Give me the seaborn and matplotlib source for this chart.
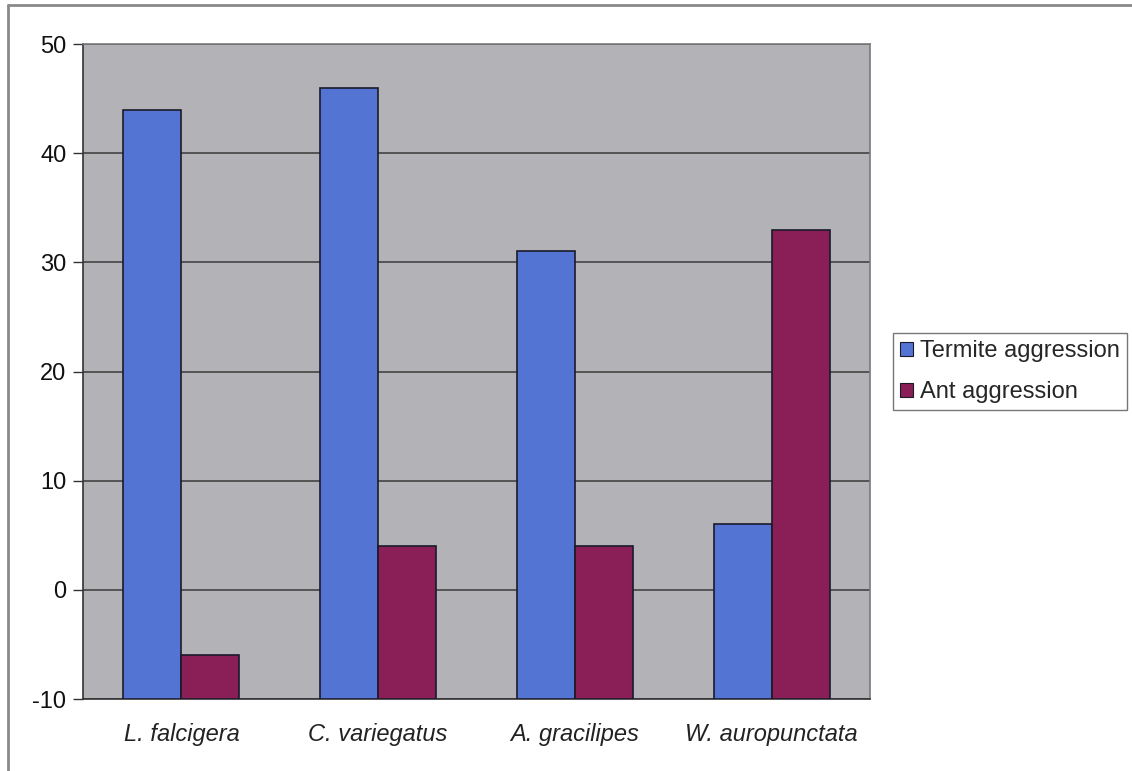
import matplotlib
matplotlib.use("Agg")
import matplotlib.pyplot as plt
from matplotlib.lines import Line2D
from matplotlib.patches import Patch
import pandas as pd
import seaborn as sns

species = ["L. falcigera", "C. variegatus", "A. gracilipes", "W. auropunctata"]
termite_aggression = [44, 46, 31, 6]
ant_aggression = [-6, 4, 4, 33]
series_names = ["Termite aggression", "Ant aggression"]
y_ticks = [-10, 0, 10, 20, 30, 40, 50]

colors = {"Termite aggression": "#5474D4", "Ant aggression": "#8A1E56"}

df = pd.DataFrame({
    "species": species * 2,
    "series": [series_names[0]] * len(species) + [series_names[1]] * len(species),
    "value": termite_aggression + ant_aggression,
})

sns.set_style("white")
plt.rcParams["font.family"] = ["Liberation Sans", "DejaVu Sans"]

fig = plt.figure(figsize=(11.32, 7.71), dpi=100)
fig.patch.set_facecolor("white")
ax = fig.add_axes([83 / 1132, 1 - 699 / 771, (870 - 83) / 1132, (699 - 44) / 771])
ax.set_facecolor("#B3B3B7")

sns.barplot(data=df, x="species", y="value", hue="series", order=species,
            hue_order=series_names, palette=colors, width=0.59, gap=0,
            edgecolor="#1a1a2a", linewidth=1.2, saturation=1, ax=ax,
            legend=False, zorder=3)

# bars rise from the bottom of the value axis (-10), where the category axis crosses
base = y_ticks[0]
for p in ax.patches:
    top = p.get_y() + p.get_height()
    p.set_y(base)
    p.set_height(top - base)

ax.set_ylim(y_ticks[0], y_ticks[-1])
ax.set_xlim(-0.5, len(species) - 0.5)
ax.set_yticks(y_ticks)
ax.set_yticklabels([str(t) for t in y_ticks], fontsize=17, color="#111111")
ax.yaxis.grid(True, color="#3a3a3a", linewidth=1.1, zorder=1)
ax.set_axisbelow(True)

ax.set_xticks(range(len(species)))
ax.set_xticklabels(species, fontsize=17, style="italic", color="#222222")
ax.set_xticks([i - 0.5 for i in range(len(species) + 1)], minor=True)
ax.tick_params(axis="x", which="major", length=0, pad=17)
ax.tick_params(axis="x", which="minor", length=7, width=1, color="#555555", direction="out")
ax.tick_params(axis="y", length=7, width=1, color="#333333", direction="out", pad=5, left=True)
ax.set_xlabel("")
ax.set_ylabel("")

for side in ["top", "right"]:
    ax.spines[side].set_color("#7a7a7a")
    ax.spines[side].set_linewidth(1.2)
ax.spines["left"].set_color("#333333")
ax.spines["bottom"].set_color("#333333")
ax.spines["left"].set_linewidth(1.2)
ax.spines["bottom"].set_linewidth(1.2)

handles = [Patch(facecolor=colors[n], edgecolor="#1a1a2a", linewidth=0.8, label=n) for n in series_names]
leg = fig.legend(handles=handles, loc="upper left",
                 bbox_to_anchor=(893 / 1132, 1 - 333 / 771),
                 fontsize=17, frameon=True, fancybox=False, borderaxespad=0,
                 handlelength=0.55, handleheight=0.55, handletextpad=0.3,
                 labelspacing=0.8, borderpad=0.3)
leg.get_frame().set_edgecolor("#555555")
leg.get_frame().set_linewidth(1.0)

# chart frame edges
fig.add_artist(Line2D([8 / 1132, 1.0], [1 - 5 / 771, 1 - 5 / 771],
                      transform=fig.transFigure, color="#8a8a8a", linewidth=2))
fig.add_artist(Line2D([8 / 1132, 8 / 1132], [0.0, 1 - 5 / 771],
                      transform=fig.transFigure, color="#8a8a8a", linewidth=2))

fig.savefig("out.png", dpi=100)
